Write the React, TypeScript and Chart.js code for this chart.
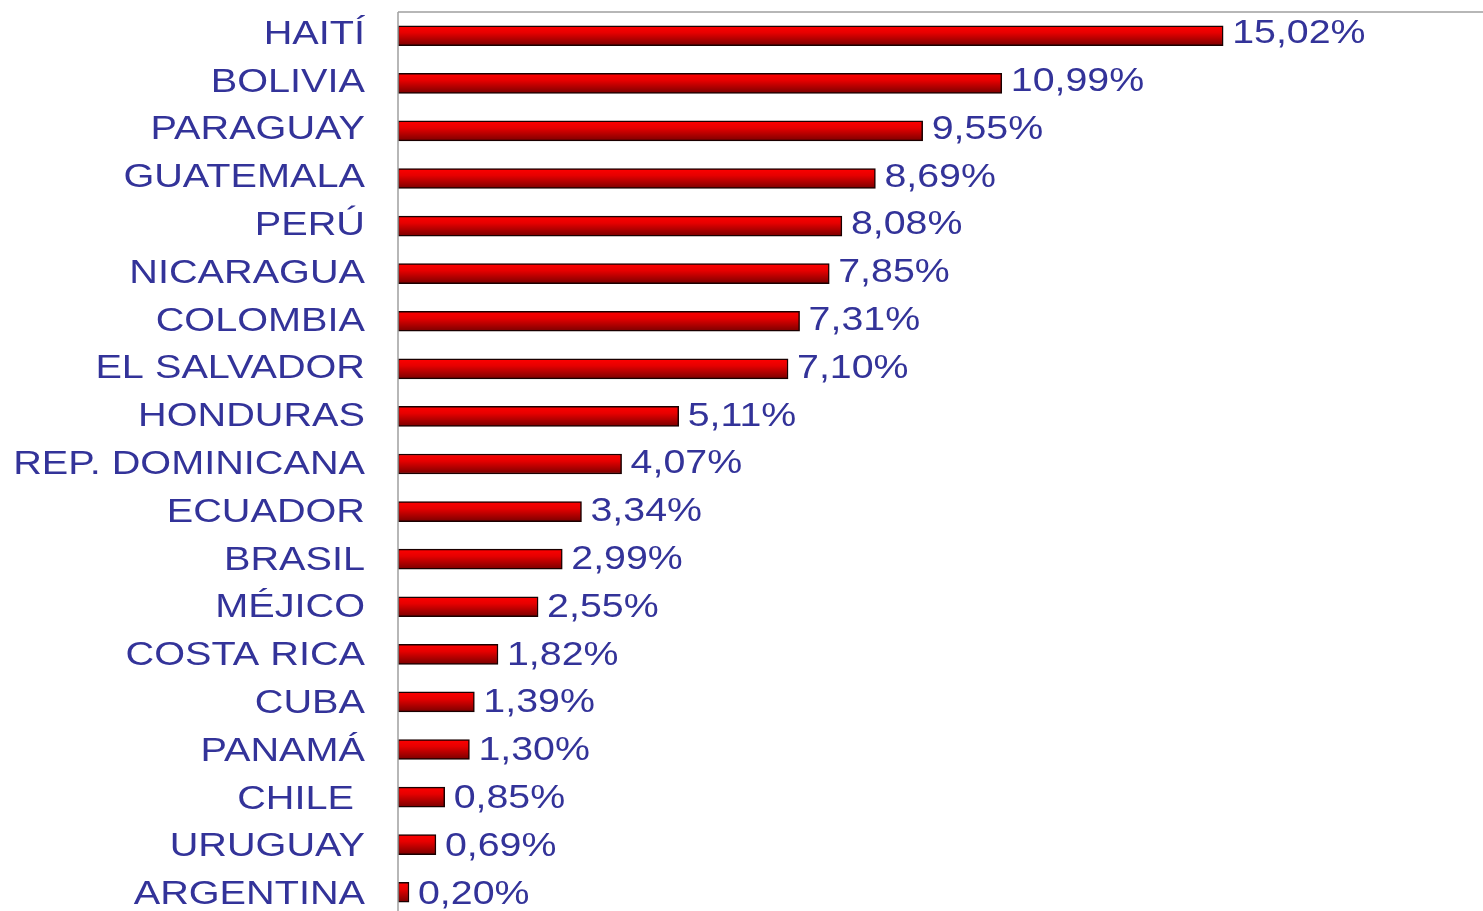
import React, { useEffect, useRef } from "react";
import { Chart, registerables } from "chart.js";

Chart.register(...registerables);

const countries = [
  "HAITÍ", "BOLIVIA", "PARAGUAY", "GUATEMALA", "PERÚ", "NICARAGUA", "COLOMBIA",
  "EL SALVADOR", "HONDURAS", "REP. DOMINICANA", "ECUADOR", "BRASIL", "MÉJICO",
  "COSTA RICA", "CUBA", "PANAMÁ", "CHILE ", "URUGUAY", "ARGENTINA",
];
const values = [
  15.02, 10.99, 9.55, 8.69, 8.08, 7.85, 7.31, 7.1, 5.11, 4.07, 3.34, 2.99, 2.55,
  1.82, 1.39, 1.3, 0.85, 0.69, 0.2,
];

const FONT = "'Liberation Sans', Arial, sans-serif";
const TEXT_COLOR = "#333399";
const LABEL_STRETCH = 1.22;
const VALUE_STRETCH = 1.21;

const textLabels = {
  id: "textLabels",
  afterDatasetsDraw(chart: any) {
    const { ctx } = chart;
    const meta = chart.getDatasetMeta(0);
    const ys = chart.scales.y;
    const n = countries.length;
    ctx.save();
    ctx.font = `32.5px ${FONT}`;
    ctx.fillStyle = TEXT_COLOR;
    ctx.textBaseline = "middle";
    meta.data.forEach((el: any, i: number) => {
      const y = ys.getPixelForValue(i);
      const shift = -1 + (4 * i) / (n - 1);
      ctx.save();
      ctx.translate(365, y + shift);
      ctx.scale(LABEL_STRETCH, 1);
      ctx.textAlign = "right";
      ctx.fillText(countries[i], 0, 0);
      ctx.restore();
      const txt = values[i].toFixed(2).replace(".", ",") + "%";
      ctx.save();
      ctx.translate(el.x + 9, y + shift - 0.5);
      ctx.scale(VALUE_STRETCH, 1);
      ctx.textAlign = "left";
      ctx.fillText(txt, 0, 0);
      ctx.restore();
    });
    ctx.restore();
  },
};

const frameLines = {
  id: "frameLines",
  afterDraw(chart: any) {
    const { ctx, chartArea } = chart;
    ctx.save();
    ctx.strokeStyle = "#a0a0a0";
    ctx.lineWidth = 1.5;
    ctx.beginPath();
    ctx.moveTo(chartArea.left, chartArea.top);
    ctx.lineTo(chart.width, chartArea.top);
    ctx.moveTo(chartArea.left, chartArea.top);
    ctx.lineTo(chartArea.left, chart.height);
    ctx.stroke();
    ctx.restore();
  },
};

export default function App() {
  const ref = useRef<HTMLCanvasElement | null>(null);
  useEffect(() => {
    if (!ref.current) return;
    const chart = new Chart(ref.current, {
      type: "bar",
      data: {
        labels: countries,
        datasets: [
          {
            data: values,
            backgroundColor: (context: any) => {
              const c = context.chart;
              const ys = c.scales && c.scales.y;
              if (!ys || context.dataIndex === undefined) return "#dd0000";
              const y = ys.getPixelForValue(context.dataIndex);
              if (!Number.isFinite(y)) return "#dd0000";
              const g = c.ctx.createLinearGradient(0, y - 10, 0, y + 10);
              g.addColorStop(0, "#ff0000");
              g.addColorStop(0.35, "#e60000");
              g.addColorStop(1, "#7a0000");
              return g;
            },
            borderColor: "#1a0000",
            borderWidth: 1.5,
            borderSkipped: false,
            barThickness: 20,
          },
        ],
      },
      options: {
        indexAxis: "y",
        responsive: false,
        animation: false,
        layout: { padding: { top: 12, left: 0, right: 0, bottom: 0 } },
        plugins: { legend: { display: false }, tooltip: { enabled: false } },
        scales: {
          x: {
            display: false,
            min: 0,
            max: 19.75,
          },
          y: {
            offset: true,
            grid: { display: false, drawTicks: false },
            border: { display: false },
            ticks: { display: false },
            afterFit: (scale: any) => {
              scale.width = 398;
              scale.paddingTop = 0;
              scale.paddingBottom = 0;
            },
          },
        },
      },
      plugins: [textLabels, frameLines],
    });
    return () => chart.destroy();
  }, []);
  return (
    <canvas
      ref={ref}
      width={1483}
      height={916}
      style={{ position: "fixed", left: 0, top: 0, width: 1483, height: 916 }}
    />
  );
}
